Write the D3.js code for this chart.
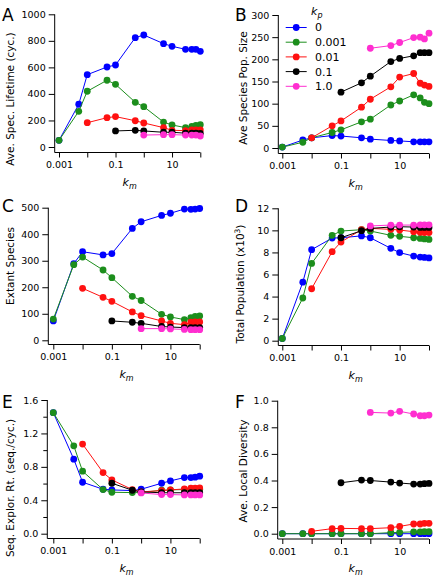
<!DOCTYPE html>
<html><head><meta charset="utf-8">
<script src="https://cdn.jsdelivr.net/npm/d3@7"></script>
<style>body{margin:0;background:#fff}svg{display:block}text{font-family:"DejaVu Sans",sans-serif;fill:#000}</style>
</head><body><svg id="c" width="435" height="579"></svg>
<script>
// ---- data ----
const km = [0.001, 0.005, 0.01, 0.05, 0.1, 0.5, 1, 5, 10, 30, 50, 70, 100];
const kpLabels = ["0", "0.001", "0.01", "0.1", "1.0"];
const xTickValues = [0.001, 0.01, 0.1, 1, 10, 100];
const xTickLabels = ["0.001", "", "0.1", "", "10", ""];

// A: Ave. Spec. Lifetime (cyc.)
const lifeKp0     = [50, 322, 545, 603, 618, 824, 844, 779, 759, 736, 736, 736, 721];
const lifeKp0001  = [50, 269, 420, 503, 472, 337, 304, 188, 166, 146, 156, 163, 168];
const lifeKp001   = [null, null, 183, 221, 229, 198, 181, 146, 126, 123, 128, 128, 128];
const lifeKp01    = [null, null, null, null, 121, 126, 121, 111, 111, 104, 104, 104, 103];
const lifeKp1     = [null, null, null, null, null, null, 90, 93, 93, 90, 90, 90, 83];
const lifeTicks   = [0, 200, 400, 600, 800, 1000];

// B: Ave Species Pop. Size
const popKp0      = [2, 18, 23, 28, 27, 23, 20, 17, 16, 14, 14, 14, 14];
const popKp0001   = [2, 13, 23, 35, 41, 59, 65, 97, 106, 120, 113, 103, 100];
const popKp001    = [null, null, 23, 50, 61, 92, 110, 138, 160, 168, 146, 142, 139];
const popKp01     = [null, null, null, null, 126, 147, 162, 195, 202, 208, 215, 215, 215];
const popKp1      = [null, null, null, null, null, null, 225, 231, 238, 249, 250, 246, 259];
const popTicks    = [0, 50, 100, 150, 200, 250, 300];

// C: Extant Species
const extKp0      = [73, 289, 334, 322, 327, 422, 447, 471, 479, 495, 494, 495, 497];
const extKp0001   = [80, 285, 314, 265, 236, 166, 150, 98, 88, 78, 85, 90, 92];
const extKp001    = [null, null, 196, 162, 147, 107, 93, 73, 64, 59, 68, 69, 69];
const extKp01     = [null, null, null, null, 73, 68, 64, 52, 50, 48, 48, 48, 48];
const extKp1      = [null, null, null, null, null, null, 44, 44, 43, 41, 40, 40, 40];
const extTicks    = [0, 100, 200, 300, 400, 500];

// D: Total Population (x10^3)
const totKp0      = [0.2, 5.3, 8.25, 9.3, 9.33, 9.5, 9.33, 8.37, 7.98, 7.67, 7.58, 7.55, 7.5];
const totKp0001   = [0.2, 3.87, 7.0, 9.55, 9.94, 10.06, 9.94, 9.55, 9.46, 9.33, 9.27, 9.22, 9.18];
const totKp001    = [null, null, 4.71, 8.07, 8.94, 10.06, 10.18, 10.09, 10.03, 9.88, 9.82, 9.8, 9.8];
const totKp01     = [null, null, null, null, 9.33, 9.97, 10.18, 10.3, 10.33, 10.3, 10.27, 10.27, 10.27];
const totKp1      = [null, null, null, null, null, null, 10.4, 10.48, 10.48, 10.48, 10.5, 10.5, 10.5];
const totTicks    = [0, 2, 4, 6, 8, 10, 12];

// E: Seq. Explor. Rt. (seq./cyc.)
const seqKp0      = [1.448, 0.892, 0.616, 0.532, 0.524, 0.516, 0.532, 0.604, 0.632, 0.672, 0.672, 0.676, 0.688];
const seqKp0001   = [1.448, 1.052, 0.748, 0.528, 0.496, 0.492, 0.492, 0.52, 0.524, 0.528, 0.532, 0.532, 0.532];
const seqKp001    = [null, null, 1.072, 0.732, 0.644, 0.528, 0.5, 0.516, 0.524, 0.536, 0.544, 0.544, 0.548];
const seqKp01     = [null, null, null, null, 0.604, 0.52, 0.5, 0.49, 0.49, 0.49, 0.49, 0.49, 0.49];
const seqKp1      = [null, null, null, null, null, null, 0.488, 0.468, 0.468, 0.464, 0.464, 0.464, 0.464];
const seqTicks    = [0, 0.2, 0.4, 0.6, 0.8, 1.0, 1.2, 1.4, 1.6];
const seqLabelTicks = [0, 0.4, 0.8, 1.2, 1.6];

// F: Ave. Local Diversity
const divKp0      = [0, 0, 0, 0, 0, 0, 0, 0, 0, 0, 0, 0, 0];
const divKp0001   = [0, 0, 0, 0, 0, 0, 0, 0.008, 0.01, 0.014, 0.014, 0.015, 0.015];
const divKp001    = [null, null, 0.018, 0.038, 0.04, 0.038, 0.038, 0.045, 0.055, 0.073, 0.073, 0.078, 0.078];
const divKp01     = [null, null, null, null, 0.383, 0.403, 0.40, 0.388, 0.381, 0.373, 0.373, 0.376, 0.378];
const divKp1      = [null, null, null, null, null, null, 0.912, 0.907, 0.92, 0.9, 0.887, 0.887, 0.892];
const divTicks    = [0, 0.2, 0.4, 0.6, 0.8, 1.0];

// ---- style ----
const colors = ["#0000ff", "#1c8e1c", "#ff1111", "#000000", "#ff2ed0"];
const svg = d3.select("#c");

function panel(o) {
  const g = svg.append("g");
  const x = d3.scaleLog().domain([0.001, 100]).range([o.x0, o.x1]);
  const y = d3.scaleLinear().domain([0, o.ymax]).range([o.yb, o.yt]);
  // y axis
  const ya = g.append("g").attr("transform", `translate(${o.ax},0)`)
    .call(d3.axisLeft(y).tickValues(o.ticks).tickSize(6).tickSizeOuter(0).tickPadding(3)
      .tickFormat(d => (o.labelTicks ? (o.labelTicks.some(v => Math.abs(v - d) < 1e-9) ? o.fmt(d) : "") : o.fmt(d))));
  ya.select(".domain").remove();
  ya.selectAll("text").style("font-size", "9.5px");
  if (o.labelTicks) ya.selectAll(".tick").filter(d => !o.labelTicks.some(v => Math.abs(v - d) < 1e-9)).select("line").attr("x2", -4);
  g.append("line").attr("x1", o.ax).attr("x2", o.ax).attr("y1", y(o.ymax)).attr("y2", o.ay).attr("stroke", "#000");
  // x axis
  const xa = g.append("g").attr("transform", `translate(0,${o.ay})`)
    .call(d3.axisBottom(x).tickValues(xTickValues).tickSize(5).tickSizeOuter(0).tickPadding(4)
      .tickFormat((d, i) => xTickLabels[i]));
  xa.select(".domain").remove();
  xa.selectAll("text").style("font-size", "9.5px");
  g.append("line").attr("x1", o.ax).attr("x2", x(100)).attr("y1", o.ay).attr("y2", o.ay).attr("stroke", "#000");
  g.selectAll(".tick line").attr("stroke", "#000");
  // k_m label
  const kl = g.append("text").attr("x", (o.x0 + o.x1) / 2).attr("y", o.ay + 33).attr("text-anchor", "middle")
    .style("font-size", "11px").style("font-style", "italic");
  kl.append("tspan").text("k");
  kl.append("tspan").attr("dy", 3).style("font-size", "8px").text("m");
  // y title
  const t = g.append("text").attr("transform", `translate(${o.tx},${o.ty}) rotate(-90)`)
    .attr("text-anchor", "middle").style("font-size", "10.5px");
  t.append("tspan").text(o.title);
  if (o.sup) {
    t.append("tspan").attr("dy", -4).style("font-size", "7.5px").text(o.sup);
    t.append("tspan").attr("dy", 4).text(")");
  }
  // letter
  g.append("text").attr("x", o.lx).attr("y", o.ly).style("font-size", "17px").text(o.letter);
  // series
  const line = d3.line().defined(d => d[1] != null).x(d => x(d[0])).y(d => y(d[1]));
  o.series.forEach((s, i) => {
    const pts = km.map((k, j) => [k, s[j]]);
    g.append("path").datum(pts).attr("d", line).attr("fill", "none").attr("stroke", colors[i]).attr("stroke-width", 1);
    g.selectAll(null).data(pts.filter(d => d[1] != null)).enter().append("circle")
      .attr("cx", d => x(d[0])).attr("cy", d => y(d[1])).attr("r", 3.4).attr("fill", colors[i]);
  });
  return {x, y};
}

const fInt = d3.format("d"), f1 = d3.format(".1f");
const L = {x0: 59, x1: 200.3}, R = {x0: 282.3, x1: 429};
panel({...L, yb: 147, yt: 14.3, ymax: 1000, ax: 54.7, ay: 152.5, ticks: lifeTicks, fmt: fInt,
  title: "Ave. Spec. Lifetime (cyc.)", tx: 14, ty: 99, letter: "A", lx: 2, ly: 21,
  series: [lifeKp0, lifeKp0001, lifeKp001, lifeKp01, lifeKp1]});
panel({...R, yb: 148, yt: 15, ymax: 300, ax: 278.3, ay: 153.5, ticks: popTicks, fmt: fInt,
  title: "Ave Species Pop. Size", tx: 247, ty: 88, letter: "B", lx: 235, ly: 21,
  series: [popKp0, popKp0001, popKp001, popKp01, popKp1]});
panel({x0: 53.3, x1: 199.7, yb: 340.3, yt: 207.7, ymax: 500, ax: 48.3, ay: 344.5, ticks: extTicks, fmt: fInt,
  title: "Extant Species", tx: 14, ty: 266, letter: "C", lx: 2, ly: 212,
  series: [extKp0, extKp0001, extKp001, extKp01, extKp1]});
panel({...R, yb: 340.7, yt: 208.3, ymax: 12, ax: 278.3, ay: 345.5, ticks: totTicks, fmt: fInt,
  title: "Total Population (x10", sup: "3", tx: 244, ty: 284, letter: "D", lx: 235, ly: 212,
  series: [totKp0, totKp0001, totKp001, totKp01, totKp1]});
panel({x0: 53.3, x1: 199.7, yb: 533.7, yt: 400, ymax: 1.6, ax: 47.3, ay: 538.5, ticks: seqTicks, labelTicks: seqLabelTicks, fmt: f1,
  title: "Seq. Explor. Rt. (seq./cyc.)", tx: 14, ty: 488, letter: "E", lx: 2, ly: 408,
  series: [seqKp0, seqKp0001, seqKp001, seqKp01, seqKp1]});
panel({...R, yb: 533.7, yt: 400.7, ymax: 1.0, ax: 277.7, ay: 539, ticks: divTicks, fmt: f1,
  title: "Ave. Local Diversity", tx: 247, ty: 471, letter: "F", lx: 235, ly: 408,
  series: [divKp0, divKp0001, divKp001, divKp01, divKp1]});

// legend (panel B)
const lg = svg.append("g");
const lt = lg.append("text").attr("x", 311).attr("y", 15).style("font-size", "11px").style("font-style", "italic");
lt.append("tspan").text("k");
lt.append("tspan").attr("dy", 3).style("font-size", "8px").text("p");
kpLabels.forEach((lab, i) => {
  const yy = 27.5 + i * 14.7;
  lg.append("line").attr("x1", 285.7).attr("x2", 306.7).attr("y1", yy).attr("y2", yy).attr("stroke", colors[i]);
  lg.append("circle").attr("cx", 296.2).attr("cy", yy).attr("r", 3.4).attr("fill", colors[i]);
  lg.append("text").attr("x", 315).attr("y", yy).attr("dy", "0.36em").style("font-size", "11px").text(lab);
});
</script></body></html>
